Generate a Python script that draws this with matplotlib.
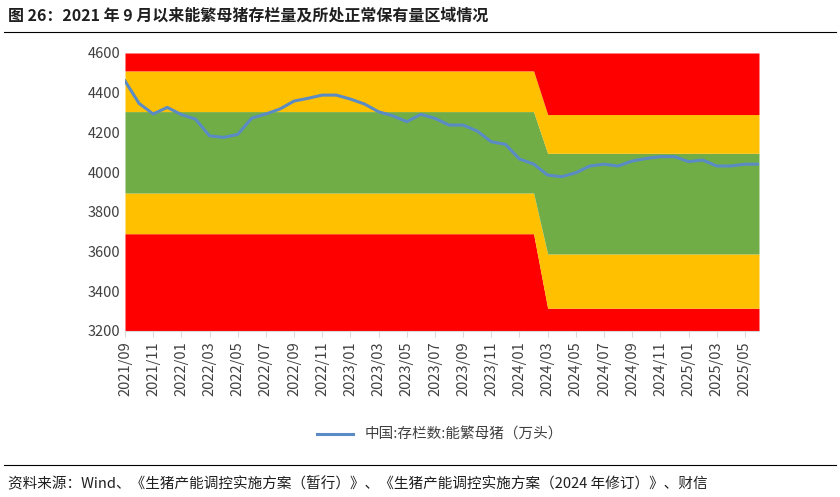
import numpy as np
import matplotlib.pyplot as plt
from matplotlib.lines import Line2D

plt.rcParams['font.family'] = ['Noto Sans CJK SC', 'DejaVu Sans']

# monthly sow inventory, 2021/09 .. 2025/06 (10k head)
sows = [4459, 4346, 4293, 4326, 4290, 4267, 4183, 4175, 4190, 4272,
        4293, 4318, 4358, 4372, 4388, 4388, 4368, 4343, 4304, 4284,
        4254, 4291, 4271, 4237, 4237, 4207, 4153, 4140, 4066, 4041,
        3985, 3977, 3997, 4031, 4040, 4031, 4056, 4069, 4078, 4078,
        4053, 4061, 4031, 4031, 4040, 4040]

# zone bounds: old plan (until 2024/02) and 2024 revision (from 2024/03)
old_bounds = [3690, 3895, 4305, 4510]
new_bounds = [3315, 3588, 4095, 4290]
switch_idx = 30  # 2024/03

n = len(sows)
x = np.arange(n)
labels = []
y0, m0 = 2021, 9
for i in range(n):
    mm = m0 + i
    labels.append(f"{y0 + (mm - 1) // 12}/{(mm - 1) % 12 + 1:02d}")

bounds = np.array([old_bounds if i < switch_idx else new_bounds for i in x])
lo, hi = 3200, 4600
red, yellow, green = '#FF0000', '#FFC000', '#70AD47'

fig = plt.figure(figsize=(8.4, 4.97), dpi=100)
ax = fig.add_axes([125/840, 1 - 331/497, (759-125)/840, (331-53)/497])

ax.fill_between(x, lo, bounds[:, 0], color=red, lw=0)
ax.fill_between(x, bounds[:, 0], bounds[:, 1], color=yellow, lw=0)
ax.fill_between(x, bounds[:, 1], bounds[:, 2], color=green, lw=0)
ax.fill_between(x, bounds[:, 2], bounds[:, 3], color=yellow, lw=0)
ax.fill_between(x, bounds[:, 3], hi, color=red, lw=0)
ax.plot(x, sows, color='#5B8BC4', lw=2.2)

ax.set_xlim(0, n - 1)
ax.set_ylim(lo, hi)
ax.set_yticks(range(3200, 4601, 200))
ax.set_xticks(x[::2])
ax.set_xticklabels(labels[::2], rotation=90, fontsize=10.5, color='#404040')
ax.tick_params(axis='y', length=0, labelsize=10.5, labelcolor='#404040')
ax.tick_params(axis='x', length=4, color='#D9D9D9')
for s in ['top', 'right', 'left']:
    ax.spines[s].set_visible(False)
ax.spines['bottom'].set_color('#D9D9D9')

fig.legend([Line2D([], [], color='#5B8BC4', lw=2.2)], ['中国:存栏数:能繁母猪（万头）'],
           loc='center', bbox_to_anchor=(440/840, 1 - 435/497), frameon=False,
           fontsize=10.5, labelcolor='#404040', handlelength=2.5)

fig.text(8/840, 1 - 16/497, '图 26：2021 年 9 月以来能繁母猪存栏量及所处正常保有量区域情况',
         fontsize=11.5, fontweight='bold', va='center', color='#1F1F1F')
fig.add_artist(Line2D([0.005, 0.995], [1 - 32/497] * 2, color='black', lw=0.8))
fig.add_artist(Line2D([0.005, 0.995], [1 - 465/497] * 2, color='black', lw=0.8))
fig.text(8/840, 1 - 483/497,
         '资料来源：Wind、《生猪产能调控实施方案（暂行）》、《生猪产能调控实施方案（2024 年修订）》、财信',
         fontsize=10.5, style='italic', va='center', color='#1F1F1F')

fig.savefig('out.png', dpi=100)
